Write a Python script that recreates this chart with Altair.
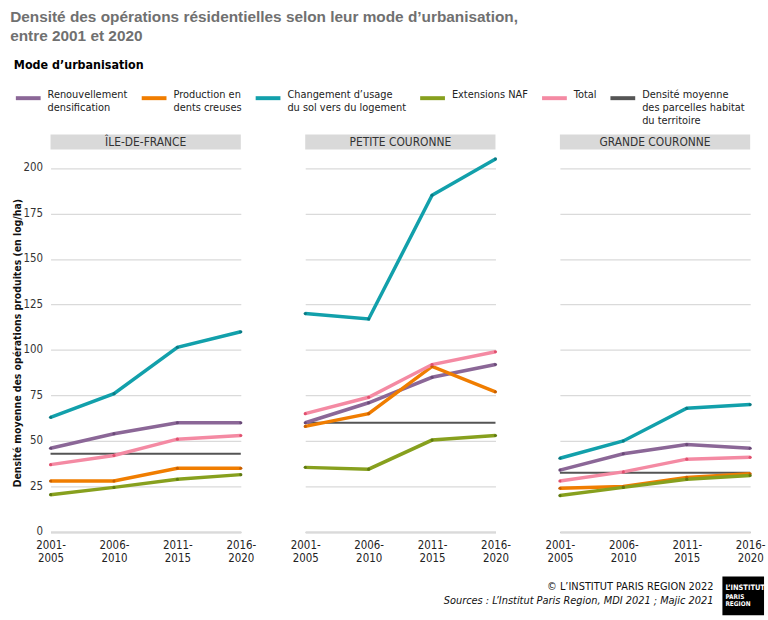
import altair as alt
import pandas as pd

regions = ["ÎLE-DE-FRANCE", "PETITE COURONNE", "GRANDE COURONNE"]
periods = ["2001-2005", "2006-2010", "2011-2015", "2016-2020"]
series = [
    "Renouvellement\ndensification",
    "Production en\ndents creuses",
    "Changement d’usage\ndu sol vers du logement",
    "Extensions NAF",
    "Total",
    "Densité moyenne\ndes parcelles habitat\ndu territoire",
]
colors = ["#8b6797", "#f07d00", "#12a0ab", "#87a01e", "#f48aa3", "#555555"]
dot_colors = ["#6a4a78", "#c85f00", "#0a7a84", "#5f7a10", "#e0506e", "#333333"]

renouv = {"ÎLE-DE-FRANCE": [46, 54, 60, 60], "PETITE COURONNE": [60, 71, 85, 92], "GRANDE COURONNE": [34, 43, 48, 46]}
prod = {"ÎLE-DE-FRANCE": [28, 28, 35, 35], "PETITE COURONNE": [58, 65, 91, 77], "GRANDE COURONNE": [24, 25, 30, 32]}
chg = {"ÎLE-DE-FRANCE": [63, 76, 101.5, 110], "PETITE COURONNE": [120, 117, 185, 205], "GRANDE COURONNE": [40.5, 50, 68, 70]}
ext = {"ÎLE-DE-FRANCE": [20.5, 24.5, 29, 31.5], "PETITE COURONNE": [35.5, 34.5, 50.5, 53], "GRANDE COURONNE": [20, 24.5, 29, 31]}
total = {"ÎLE-DE-FRANCE": [37, 42, 51, 53], "PETITE COURONNE": [65, 74, 92, 99], "GRANDE COURONNE": [28, 33, 40, 41]}
moyenne = {"ÎLE-DE-FRANCE": [43, 43, 43, 43], "PETITE COURONNE": [60, 60, 60, 60], "GRANDE COURONNE": [32.5, 32.5, 32.5, 32.5]}

y_ticks = [0, 25, 50, 75, 100, 125, 150, 175, 200]

rows = []
for s, d in zip(series, [renouv, prod, chg, ext, total, moyenne]):
    for r in regions:
        for p, v in zip(periods, d[r]):
            rows.append({"region": r, "period": p, "series": s, "value": v})
df = pd.DataFrame(rows)

FONT = "Liberation Sans Narrow, DejaVu Sans Condensed, Roboto Condensed, sans-serif"
W = 192
H = 382
AVG = series[-1]

base = alt.Chart(df)

x_enc = alt.X(
    "period:N", sort=periods, scale=alt.Scale(type="point", padding=0),
    axis=alt.Axis(title=None, labelExpr="[slice(datum.label,0,5), slice(datum.label,5)]",
                  labelAngle=0, ticks=False, domainColor="#9a9a9a", domainWidth=1.5,
                  labelFont=FONT, labelFontSize=11.5, labelColor="#222",
                  labelPadding=8, labelLineHeight=13),
)
y_enc = alt.Y(
    "value:Q", scale=alt.Scale(domain=[0, 208], nice=False),
    axis=alt.Axis(values=y_ticks, title="Densité moyenne des opérations produites (en log/ha)",
                  titleFont=FONT, titleFontSize=10.5, titleFontWeight="bold", titleColor="#111",
                  titlePadding=1, domain=False, ticks=False, gridColor="#dadada", gridWidth=1.2,
                  labelFont=FONT, labelFontSize=11.5, labelColor="#333", labelPadding=8),
)
# every legend label is padded to three lines so that all entries share one height
color_enc = alt.Color(
    "series:N", sort=series, scale=alt.Scale(domain=series, range=colors),
    legend=alt.Legend(
        title="Mode d’urbanisation", orient="none", legendX=-37, legendY=-95,
        direction="horizontal", columns=6, symbolType="stroke", symbolStrokeWidth=4,
        symbolSize=625,
        labelExpr="slice(split(datum.label + '\\n\\n', '\\n'), 0, 3)",
        labelBaseline="alphabetic",
        titleFont=FONT, titleFontSize=12.5, titleFontWeight="bold", titleColor="#000",
        titlePadding=12, labelFont=FONT, labelFontSize=11, labelColor="#222",
        columnPadding=6, labelLimit=300, labelOffset=5,
    ),
)

lines = base.transform_filter(alt.datum.series != AVG).mark_line(strokeWidth=3.5).encode(
    x=x_enc, y=y_enc, color=color_enc)
avg_line = base.transform_filter(alt.datum.series == AVG).mark_line(strokeWidth=2).encode(
    x=x_enc, y=y_enc, color=color_enc)
dots = base.transform_filter(alt.datum.series != AVG).mark_circle(size=10, opacity=1).encode(
    x=x_enc, y=y_enc,
    fill=alt.Fill("series:N", scale=alt.Scale(domain=series, range=dot_colors), legend=None))

one = base.transform_filter((alt.datum.series == "Total") & (alt.datum.period == periods[0]))
hdr_rect = one.mark_rect(color="#d9d9d9").encode(
    x=alt.value(0), x2=alt.value(W), y=alt.value(-19), y2=alt.value(-4))
hdr_text = one.mark_text(font=FONT, fontSize=12, color="#333", baseline="middle").encode(
    x=alt.value(W / 2), y=alt.value(-11), text="region:N")

panels = alt.layer(hdr_rect, hdr_text, avg_line, lines, dots).properties(width=W, height=H).facet(
    column=alt.Column("region:N", sort=regions, header=alt.Header(title=None, labels=False)),
    spacing=65, bounds="flush",
)

footer_lines = ["© L’INSTITUT PARIS REGION 2022", "Sources : L’Institut Paris Region, MDI 2021 ; Majic 2021"]
logo_lines = ["L’INSTITUT", "PARIS", "REGION"]
fdf = pd.DataFrame({"t": [footer_lines[0]]})
foot = alt.Chart(fdf)
f1 = foot.mark_text(font=FONT, fontSize=11, align="right", color="#111").encode(
    x=alt.value(669), y=alt.value(23), text=alt.value(footer_lines[0]))
f2 = foot.mark_text(font=FONT, fontSize=11, align="right", fontStyle="italic", color="#111").encode(
    x=alt.value(669), y=alt.value(37), text=alt.value(footer_lines[1]))
logo = foot.mark_rect(color="#000").encode(
    x=alt.value(678), x2=alt.value(720), y=alt.value(12), y2=alt.value(51))
logo_t1 = foot.mark_text(font=FONT, fontSize=7.5, fontWeight="bold", align="left", color="#fff").encode(
    x=alt.value(681), y=alt.value(24), text=alt.value(logo_lines[0]))
logo_t2 = foot.mark_text(font=FONT, fontSize=6.5, fontWeight="bold", align="left", color="#fff").encode(
    x=alt.value(681), y=alt.value(33), text=alt.value(logo_lines[1]))
logo_t3 = foot.mark_text(font=FONT, fontSize=6.5, fontWeight="bold", align="left", color="#fff").encode(
    x=alt.value(681), y=alt.value(40), text=alt.value(logo_lines[2]))
footer = alt.layer(f1, f2, logo, logo_t1, logo_t2, logo_t3).properties(width=660, height=52)

chart = alt.vconcat(panels, footer, spacing=0).properties(
    title=alt.TitleParams(
        text=["Densité des opérations résidentielles selon leur mode d’urbanisation,", "entre 2001 et 2020"],
        anchor="start", font="Liberation Sans, Arial, sans-serif", fontSize=15.5, fontWeight="bold",
        color="#707070", offset=15, lineHeight=19, frame="bounds", dx=-2,
    ),
    padding={"left": 10, "top": 7, "right": 2, "bottom": 0},
).configure_view(stroke=None).configure_concat(spacing=0)

chart.save("out.html", embed_options={"renderer": "svg", "actions": False})
